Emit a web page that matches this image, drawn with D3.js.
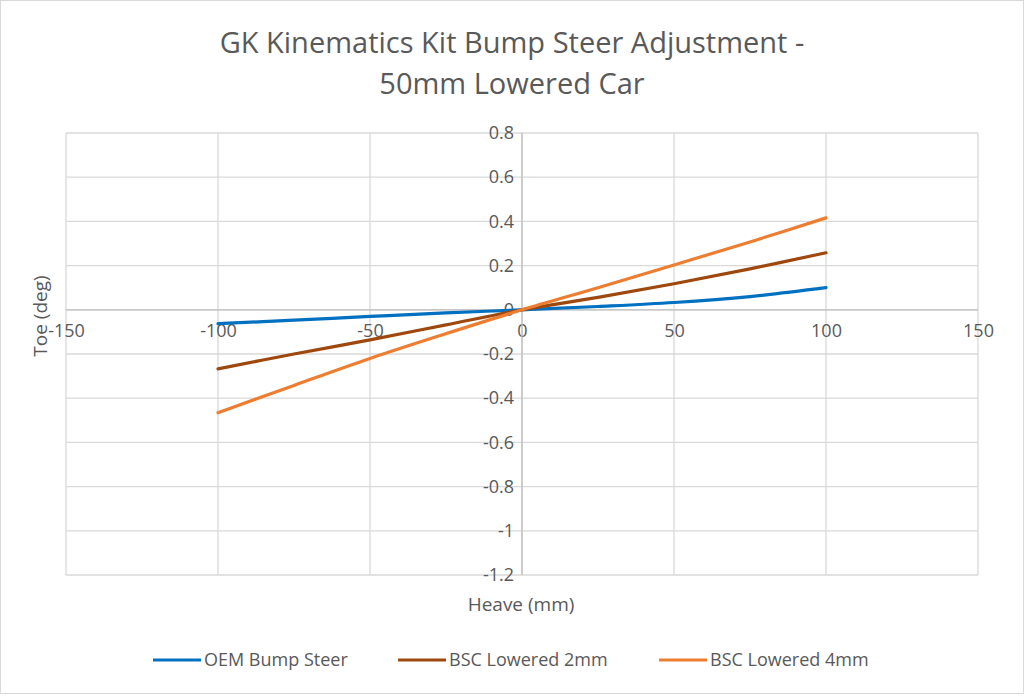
<!DOCTYPE html>
<html>
<head>
<meta charset="utf-8">
<script src="https://cdn.jsdelivr.net/npm/d3@7"></script>
<style>
  body { margin: 0; background: #fff; }
  text { font-family: "Open Sans", "Noto Sans", sans-serif; fill: #595959; }
</style>
</head>
<body>
<svg id="chart" width="1024" height="696"></svg>
<script>
// heave positions (mm) and toe readings (deg) per setup
const heave = [-100, -75, -50, -25, 0, 25, 50, 75, 100];
const oemToe = [-0.063, -0.047, -0.030, -0.014, 0, 0.015, 0.033, 0.060, 0.100];
const bsc2Toe = [-0.267, -0.200, -0.136, -0.068, 0, 0.056, 0.118, 0.185, 0.258];
const bsc4Toe = [-0.466, -0.342, -0.220, -0.108, 0, 0.100, 0.203, 0.307, 0.416];
const seriesNames = ['OEM Bump Steer', 'BSC Lowered 2mm', 'BSC Lowered 4mm'];
const seriesColors = ['#0070c0', '#9e480e', '#ed7d31'];
const xTicks = [-150, -100, -50, 0, 50, 100, 150];
const yTicks = [0.8, 0.6, 0.4, 0.2, 0, -0.2, -0.4, -0.6, -0.8, -1, -1.2];

const svg = d3.select('#chart');
const W = 1024, H = 696;
const plot = { left: 66, right: 978, top: 133, bottom: 575 };

const x = d3.scaleLinear().domain([-150, 150]).range([plot.left, plot.right]);
const y = d3.scaleLinear().domain([-1.2, 0.8]).range([plot.bottom, plot.top]);

// Excel style labels: plain hyphen for negatives
const fmt = d => String(+d.toFixed(1));

// outer chart border
svg.append('rect')
    .attr('x', 0.5).attr('y', 0.5)
    .attr('width', W - 1).attr('height', H - 3)
    .attr('fill', '#fff')
    .attr('stroke', '#d9d9d9');

// title
const title = svg.append('text')
    .attr('text-anchor', 'middle')
    .attr('font-size', 29);
title.append('tspan').attr('x', 512).attr('y', 53).text('GK Kinematics Kit Bump Steer Adjustment -');
title.append('tspan').attr('x', 512).attr('y', 94).text('50mm Lowered Car');

// gridlines
svg.append('g')
    .selectAll('line')
    .data(yTicks)
    .join('line')
    .attr('x1', plot.left).attr('x2', plot.right)
    .attr('y1', d => y(d)).attr('y2', d => y(d))
    .attr('stroke', '#d9d9d9').attr('stroke-width', 1.3);

svg.append('g')
    .selectAll('line')
    .data(xTicks)
    .join('line')
    .attr('x1', d => x(d)).attr('x2', d => x(d))
    .attr('y1', plot.top).attr('y2', plot.bottom)
    .attr('stroke', '#d9d9d9').attr('stroke-width', 1.3);

// axes crossing at zero
const xAxis = d3.axisBottom(x).tickValues(xTicks).tickSize(0).tickPadding(14).tickFormat(fmt);
const yAxis = d3.axisLeft(y).tickValues(yTicks).tickSize(0).tickPadding(8).tickFormat(fmt);

const gx = svg.append('g').attr('transform', `translate(0,${y(0)})`).call(xAxis);
const gy = svg.append('g').attr('transform', `translate(${x(0)},0)`).call(yAxis);
[gx, gy].forEach(g => {
    g.select('.domain').attr('stroke', '#bfbfbf').attr('stroke-width', 1.3);
    g.selectAll('text').attr('font-size', 18).attr('fill', '#595959')
        .style('font-family', '"Open Sans", sans-serif');
});
gx.select('.domain').attr('d', `M${plot.left},0H${plot.right}`);
gy.select('.domain').attr('d', `M0,${plot.top}V${plot.bottom}`);

// series lines
const line = d3.line()
    .x(d => x(d[0]))
    .y(d => y(d[1]))
    .curve(d3.curveCatmullRom.alpha(0.5));

[oemToe, bsc2Toe, bsc4Toe].forEach((vals, i) => {
    svg.append('path')
        .datum(heave.map((h, j) => [h, vals[j]]))
        .attr('fill', 'none')
        .attr('stroke', seriesColors[i])
        .attr('stroke-width', 3.2)
        .attr('stroke-linecap', 'round')
        .attr('d', line);
});

// axis titles
svg.append('text')
    .attr('x', 521).attr('y', 611)
    .attr('text-anchor', 'middle')
    .attr('font-size', 19)
    .text('Heave (mm)');

svg.append('text')
    .attr('transform', 'translate(47,316) rotate(-90)')
    .attr('text-anchor', 'middle')
    .attr('font-size', 19)
    .text('Toe (deg)');

// legend
const legendX = [153, 398, 659];
const legend = svg.append('g')
    .selectAll('g')
    .data(seriesNames)
    .join('g')
    .attr('transform', (d, i) => `translate(${legendX[i]},660)`);

legend.append('line')
    .attr('x1', 0).attr('x2', 48)
    .attr('stroke', (d, i) => seriesColors[i])
    .attr('stroke-width', 3.2);

legend.append('text')
    .attr('x', 51).attr('y', 6)
    .attr('font-size', 18)
    .text(d => d);
</script>
</body>
</html>
